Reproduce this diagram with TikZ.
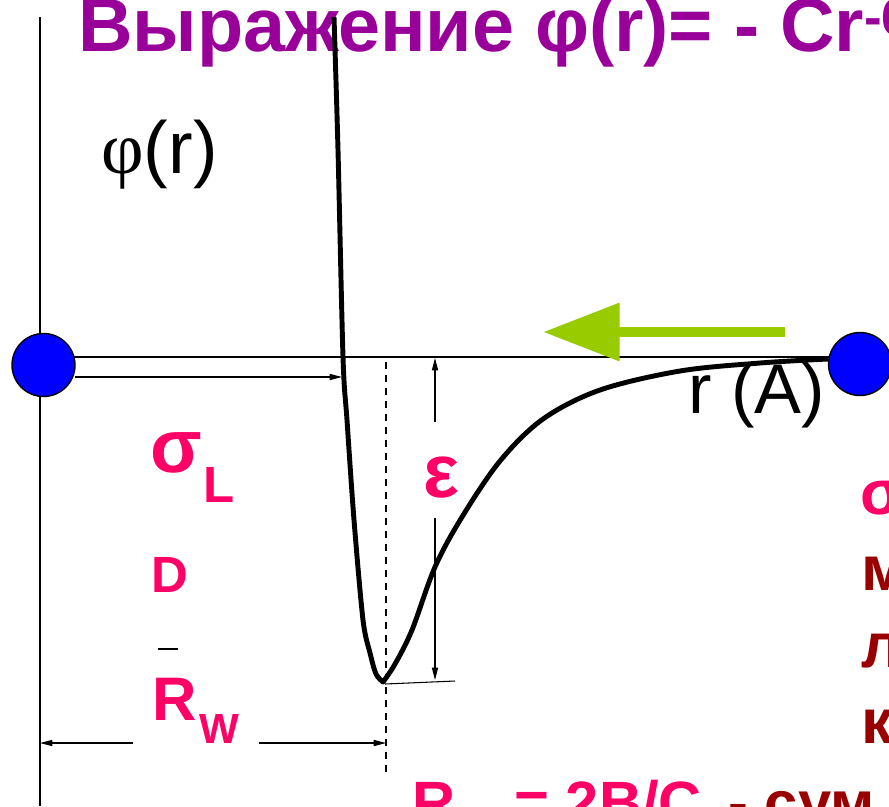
\documentclass[tikz,border=0pt]{standalone}
\usepackage{fontspec}
\setmainfont{Liberation Sans}
\newfontfamily\phifont{Liberation Serif}
\usepackage{tikz}
\usetikzlibrary{arrows.meta}
\definecolor{titlepurple}{RGB}{153,0,153}
\definecolor{labelpink}{RGB}{255,0,102}
\definecolor{textred}{RGB}{153,0,0}
\definecolor{arrowgreen}{RGB}{153,204,0}
\definecolor{atomblue}{RGB}{0,0,255}
\newcommand{\fsz}[1]{\fontsize{#1}{#1}\selectfont}

\begin{document}
\begin{tikzpicture}[x=0.02cm, y=-0.02cm,
    lbl/.style={anchor=base west, inner sep=0pt},
    pinklbl/.style={lbl, text=labelpink, font=\bfseries\fsz{#1}},
    redlbl/.style={lbl, text=textred, font=\bfseries\fsz{36}},
    atom/.style={circle, draw, line width=0.8pt, fill=atomblue, minimum size=1.26cm, inner sep=0pt},
    axisline/.style={line width=1.1pt},
    dimline/.style={line width=0.6pt},
    dimtip/.style={-{Triangle[length=7pt,width=3.5pt]}}]
    \useasboundingbox (0,0) rectangle (889,806);
    \clip (0,0) rectangle (889,806);

    % title
    \node[lbl, text=titlepurple, font=\bfseries\fsz{43}] (title) at (78,51)
        {Выражение φ(r)= - Cr\textsuperscript{-6}};

    % axes and atoms
    \coordinate (yaxT) at (40,17);
    \coordinate (yaxB) at (40,806);
    \coordinate (axL) at (43,357);
    \coordinate (axR) at (860,357);
    \draw[axisline] (yaxT) -- (yaxB);
    \draw[axisline] (axL) -- (axR);
    \node[atom] (atomL) at (43.5,365) {};
    \node[atom] (atomR) at (860,364) {};

    % green arrow
    \coordinate (greenS) at (785,332);
    \coordinate (greenE) at (543,332);
    \draw[arrowgreen, line width=6.2pt, -{Triangle[length=43.6pt,width=31.7pt]}] (greenS) -- (greenE);

    % potential curve
    \draw[line width=2.8pt, line join=round]
        plot[smooth, tension=0.5] coordinates {(334,17) (338,150) (343,357) (347,420)
            (354,520) (363,620) (370,653) (376,674) (383,682)}
        -- plot[smooth, tension=0.55] coordinates {(383,682) (395,664) (412,630)
            (435,567) (462,517) (500,461) (543,419) (600,390) (680,371)
            (760,363) (828,359)};

    % dashed line at minimum
    \coordinate (minT) at (386,362);
    \coordinate (minB) at (386,777);
    \draw[dimline, dash pattern=on 4pt off 3.4pt] (minT) -- (minB);

    % sigma arrow
    \coordinate (sigS) at (75,377);
    \coordinate (sigE) at (342,377);
    \draw[dimline, dimtip] (sigS) -- (sigE);

    % epsilon arrow
    \coordinate (epsT) at (435,358);
    \coordinate (epsTg) at (435,422);
    \coordinate (epsBg) at (435,518);
    \coordinate (epsB) at (435,680);
    \draw[dimline, dimtip] (epsTg) -- (epsT);
    \draw[dimline, dimtip] (epsBg) -- (epsB);
    \coordinate (tickL) at (385,684);
    \coordinate (tickR) at (455,681);
    \draw[dimline] (tickL) -- (tickR);

    % R_W arrow
    \coordinate (rwL) at (40,743);
    \coordinate (rwLg) at (133,743);
    \coordinate (rwRg) at (259,743);
    \coordinate (rwR) at (386,743);
    \draw[dimline, dimtip] (rwLg) -- (rwL);
    \draw[dimline, dimtip] (rwRg) -- (rwR);
    \coordinate (dashL) at (158,649);
    \coordinate (dashR) at (178,649);
    \draw[dimline] (dashL) -- (dashR);

    % labels
    \node[lbl, font=\fsz{42}] (phi) at (101,173) {{\phifont φ}(r)};
    \node[lbl, font=\fsz{40}] (rA) at (688,413) {r (A)};
    \node[pinklbl=43] (sigL) at (150,472) {σ};
    \node[pinklbl=29] (sigLsub) at (203,502) {L};
    \node[pinklbl=29] (dlbl) at (151,592) {D};
    \node[pinklbl=35] (rW) at (152,720) {R};
    \node[pinklbl=24] (rWsub) at (199,743) {W};
    \node[pinklbl=43] (eps) at (423,497) {ε};

    % right column
    \node[pinklbl=36] (colS) at (860,514) {σ};
    \node[redlbl] (colM) at (861,590) {м};
    \node[redlbl] (colL) at (861,667) {л};
    \node[redlbl] (colK) at (861,743) {к};

    % bottom line
    \node[pinklbl=34] (botR) at (412,823) {R};
    \node[pinklbl=34] (botEq) at (514,823) {= 2B/C};
    \node[redlbl, font=\bfseries\fsz{34}] (botTxt) at (728,823) {- сум};
\end{tikzpicture}
\end{document}
